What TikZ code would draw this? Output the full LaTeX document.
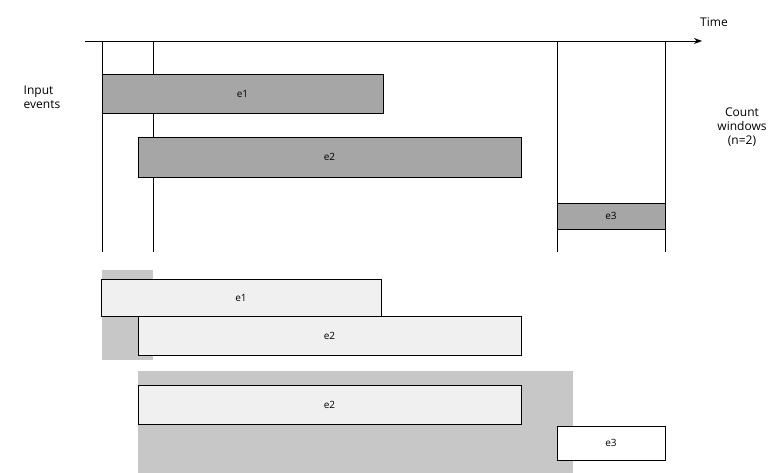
\documentclass[tikz,border=0pt]{standalone}
\usepackage{fontspec}
\setmainfont{Open Sans}
\usetikzlibrary{arrows.meta}
\tikzset{
  darkev/.style={draw=black, thick, fill=black!35, inner sep=0pt},
  lightev/.style={draw=black, thick, fill=black!6, inner sep=0pt},
  whiteev/.style={draw=black, thick, fill=white, inner sep=0pt},
  shade/.style={fill=black!22, draw=none},
  wline/.style={draw=black, thick},
  lbl/.style={font=\large, align=left}
}
\begin{document}
\begin{tikzpicture}[x=1pt, y=-1pt]
  \useasboundingbox (0,0) rectangle (779,473);

  % time axis
  \coordinate (axisL) at (85,41);
  \coordinate (axisR) at (702,41);
  \draw[thick, -{Stealth[length=8pt]}] (axisL) -- (axisR);
  \node[lbl, anchor=south] (time) at (714,30) {Time};

  % windows
  \foreach \x in {102,153,557,665}
    \draw[wline] (\x,41) -- (\x,252);

  % events in time
  \draw[darkev] (102,74) rectangle (383,113) node[midway] (e1) {e1};
  \draw[darkev] (138,137) rectangle (521,177) node[midway] (e2) {e2};
  \draw[darkev] (557,203) rectangle (665,229) node[midway] (e3) {e3};

  \node[lbl] (input) at (42,97) {Input\\events};
  \node[lbl, align=center] (count) at (742,127) {Count\\windows\\(n=2)};

  % window contents
  \fill[shade] (102,270) rectangle (153,360);
  \draw[lightev] (101,279) rectangle (381,316) node[midway] (w1e1) {e1};
  \draw[lightev] (138,316) rectangle (521,355) node[midway] (w1e2) {e2};

  \fill[shade] (138,371) rectangle (573,473);
  \draw[lightev] (138,385) rectangle (521,424) node[midway] (w2e2) {e2};
  \draw[whiteev] (557,426) rectangle (665,460) node[midway] (w2e3) {e3};
\end{tikzpicture}
\end{document}
